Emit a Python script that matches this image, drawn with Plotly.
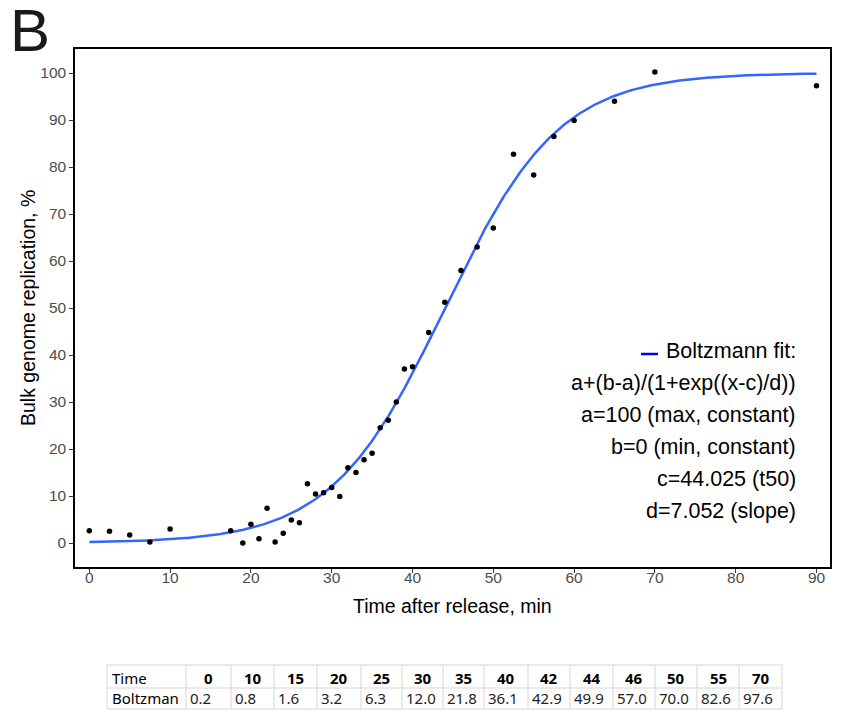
import numpy as np
import plotly.graph_objects as go

# ---- data ----
times = [0, 2.5, 5, 7.5, 10, 17.5, 19, 20, 21, 22, 23, 24, 25, 26, 27, 28, 29, 30, 31,
         32, 33, 34, 35, 36, 37, 38, 39, 40, 42, 44, 46, 48, 50, 52.5, 55, 57.5, 60, 65, 70, 90]
replication = [2.6, 2.5, 1.7, 0.2, 3.0, 2.6, 0.0, 4.0, 0.9, 7.4, 0.2, 2.1, 4.9, 4.3, 12.6,
               10.4, 10.7, 11.8, 9.9, 16.0, 15.0, 17.7, 19.1, 24.5, 26.1, 30.0, 37.0, 37.5,
               44.8, 51.2, 58.0, 63.0, 67.0, 82.7, 78.3, 86.5, 89.9, 94.0, 100.2, 97.3]

fit_a, fit_b, fit_c, fit_d = 100, 0, 44.025, 7.052

table_row_labels = ["Time", "Boltzman"]
table_times = ["0", "10", "15", "20", "25", "30", "35", "40", "42", "44", "46", "50", "55", "70"]
table_boltzman = ["0.2", "0.8", "1.6", "3.2", "6.3", "12.0", "21.8", "36.1", "42.9", "49.9",
                  "57.0", "70.0", "82.6", "97.6"]

fit_lines = ["Boltzmann fit:", "a+(b-a)/(1+exp((x-c)/d))", "a=100 (max, constant)",
             "b=0 (min, constant)", "c=44.025 (t50)", "d=7.052 (slope)"]

x_ticks = list(range(0, 91, 10))
y_ticks = list(range(0, 101, 10))

# ---- figure ----
W, H = 841, 715
FONT = "Liberation Sans, Arial"


def px(xp):
    return xp / W


def py(yp):
    return 1 - yp / H


xfit = np.linspace(0, 90, 400)
yfit = fit_a + (fit_b - fit_a) / (1 + np.exp((xfit - fit_c) / fit_d))

fig = go.Figure()
fig.add_trace(go.Scatter(x=xfit, y=yfit, mode="lines",
                         line=dict(color="#3366FF", width=2.5), showlegend=False))
fig.add_trace(go.Scatter(x=times, y=replication, mode="markers",
                         marker=dict(color="black", size=5.5), showlegend=False))

x_px0, x_ppu = 89.3, 8.08
y_px0, y_ppu = 543, 4.7
left, right, top, bottom = 75, 830, 49, 567
xr = [(left - x_px0) / x_ppu, (right - x_px0) / x_ppu]
yr = [(y_px0 - bottom) / y_ppu, (y_px0 - top) / y_ppu]

axis_common = dict(showgrid=False, zeroline=False, showline=True, linecolor="black",
                   linewidth=1.5, mirror=True, ticks="outside", ticklen=4,
                   tickcolor="#333333", tickwidth=1,
                   tickfont=dict(family=FONT, size=15.5, color="#4D4D4D"))

fig.update_layout(
    width=W, height=H,
    margin=dict(l=0, r=0, t=0, b=0),
    paper_bgcolor="white", plot_bgcolor="white",
    font=dict(family=FONT, color="black"),
    xaxis=dict(domain=[px(left), px(right)], range=xr, tickvals=x_ticks,
               automargin=False, ticklabelstandoff=-8, **axis_common),
    yaxis=dict(domain=[py(bottom), py(top)], range=yr, tickvals=y_ticks,
               automargin=False, **axis_common),
)

# axis titles
fig.add_annotation(text="Time after release, min", x=px((left + right) / 2), y=py(606),
                   xref="paper", yref="paper", xanchor="center", yanchor="middle",
                   showarrow=False, font=dict(size=19.5, color="black", family=FONT))
fig.add_annotation(text="Bulk genome replication, %", x=px(28), y=py((top + bottom) / 2),
                   xref="paper", yref="paper", xanchor="center", yanchor="middle",
                   textangle=-90, showarrow=False,
                   font=dict(size=19.5, color="black", family=FONT))

# panel letter
fig.add_annotation(text="B", x=px(8), y=py(-5), xref="paper", yref="paper",
                   xanchor="left", yanchor="top", showarrow=False,
                   font=dict(size=60, color="#1a1a1a", family=FONT))

# fit annotation lines
line_y = [351, 383, 415, 447, 479, 511]
for txt, yy in zip(fit_lines, line_y):
    fig.add_annotation(text=txt, x=px(798), y=py(yy), xref="paper", yref="paper",
                       xanchor="right", yanchor="middle", showarrow=False,
                       font=dict(size=21.5, color="black", family=FONT))

fig.add_shape(type="line", xref="paper", yref="paper",
              x0=px(641), x1=px(658), y0=py(354), y1=py(354),
              line=dict(color="#0000EE", width=2.5))

# ---- table (drawn with shapes and text) ----
col_bounds = [107, 186, 231, 274, 317, 361, 402, 443, 484, 528, 570, 613, 655, 697, 739, 782]
t_top, t_mid, t_bot = 665, 688, 709
row_centers = [678, 698]
grid = dict(color="#d6d6d6", width=1)
for yy in (t_top, t_mid, t_bot):
    fig.add_shape(type="line", xref="paper", yref="paper",
                  x0=px(col_bounds[0]), x1=px(col_bounds[-1]), y0=py(yy), y1=py(yy),
                  line=grid)
for xx in col_bounds:
    fig.add_shape(type="line", xref="paper", yref="paper",
                  x0=px(xx), x1=px(xx), y0=py(t_top), y1=py(t_bot), line=grid)

TFONT = "Noto Sans"
for i, lab in enumerate(table_row_labels):
    fig.add_annotation(text=lab, x=px(col_bounds[0] + 3), y=py(row_centers[i]),
                       xref="paper", yref="paper", xanchor="left", yanchor="middle",
                       showarrow=False, font=dict(size=15, color="black", family=TFONT))
for j, (t, v) in enumerate(zip(table_times, table_boltzman)):
    c0, c1 = col_bounds[j + 1], col_bounds[j + 2]
    fig.add_annotation(text="<b>%s</b>" % t, x=px((c0 + c1) / 2), y=py(row_centers[0]),
                       xref="paper", yref="paper", xanchor="center", yanchor="middle",
                       showarrow=False, font=dict(size=15, color="black", family=TFONT))
    fig.add_annotation(text=v, x=px(c0 + 2), y=py(row_centers[1]),
                       xref="paper", yref="paper", xanchor="left", yanchor="middle",
                       showarrow=False, font=dict(size=15, color="#222222", family=TFONT))

fig.write_html("out.html", config={"displayModeBar": False},
               post_script="document.body.style.margin='0';document.body.style.overflow='hidden';")
